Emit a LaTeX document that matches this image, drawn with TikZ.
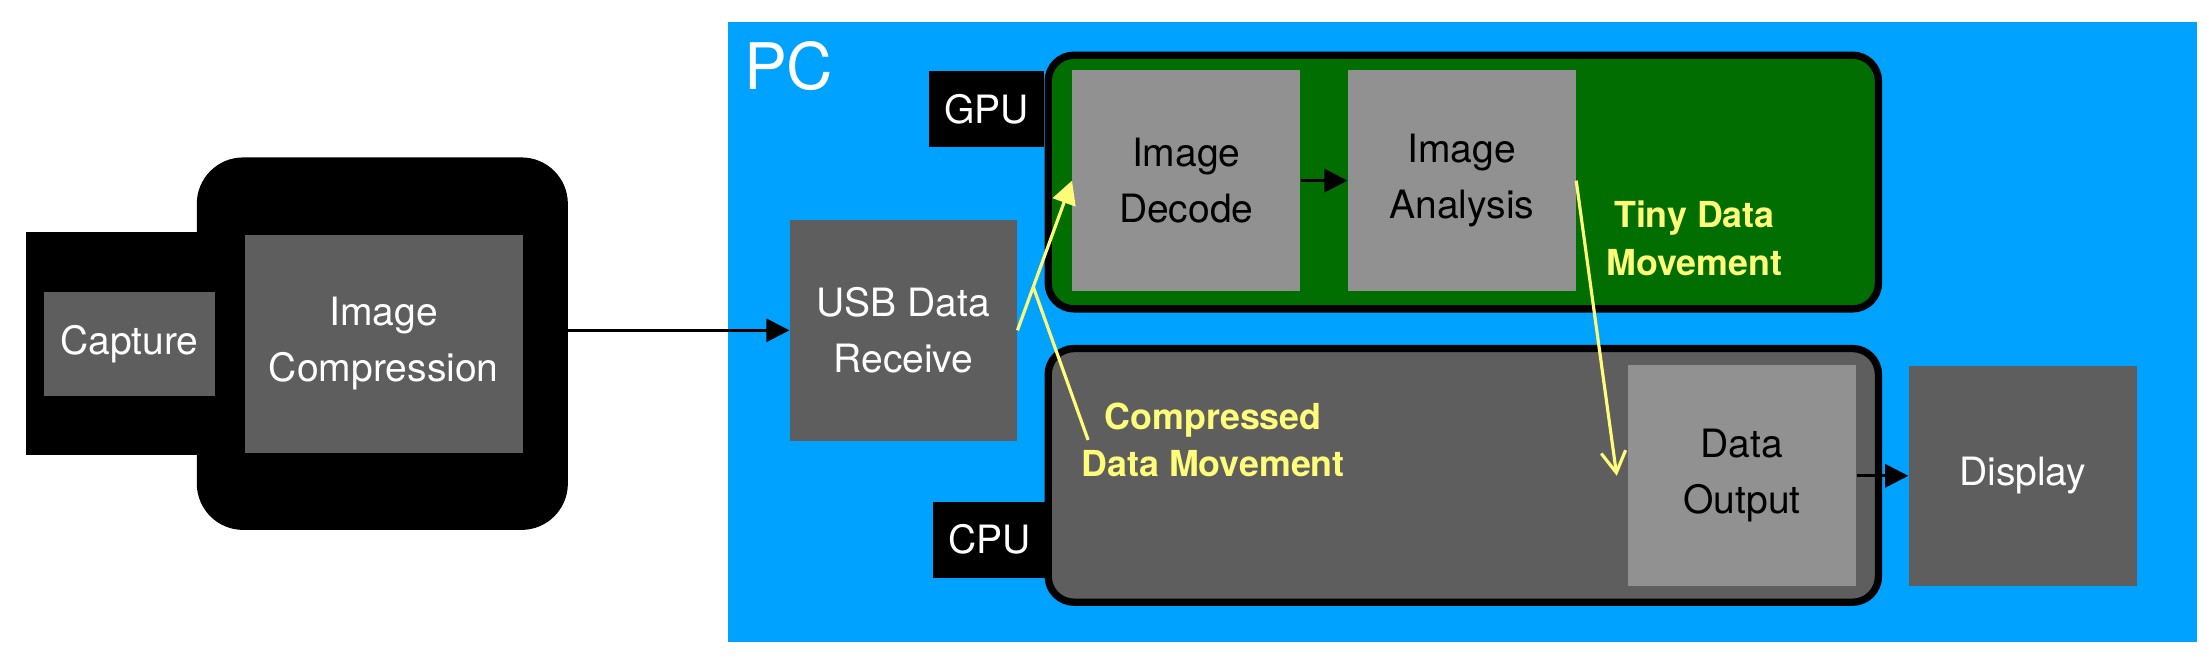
\documentclass[tikz,border=0pt]{standalone}
\usepackage{fontspec}
\setmainfont{TeX Gyre Heros}
\usetikzlibrary{arrows.meta}
\definecolor{azul}{RGB}{0,162,255}
\definecolor{verde}{RGB}{0,110,0}
\definecolor{grisosc}{RGB}{94,94,94}
\definecolor{grisclaro}{RGB}{145,145,145}
\definecolor{amarillo}{RGB}{255,252,121}
\tikzset{
  caja/.style={inner sep=0pt, align=center, font=\fontsize{15.8}{22.5}\selectfont},
  oscura/.style={caja, fill=grisosc, text=white},
  clara/.style={caja, fill=grisclaro, text=black},
  etiqueta/.style={caja, fill=black, text=white, minimum height=10.8mm},
  contenedor/.style={draw=black, line width=1.04mm, rounded corners=3.7mm, minimum width=118.14mm, minimum height=36.1mm},
  flecha/.style={line width=0.4mm, -{Triangle[length=3.3mm,width=3.3mm]}},
  flechaam/.style={line width=0.45mm, draw=amarillo},
  nota/.style={text=amarillo, align=center, font=\bfseries\fontsize{14.5}{19.3}\selectfont}
}
\begin{document}
\begin{tikzpicture}[x=0.2mm,y=-0.2mm]
    \useasboundingbox (0,0) rectangle (1568,466.7);
    % Fondo del PC
    \fill[azul] (518,16) rectangle (1563,456.5);
    \node[anchor=base west, inner sep=0pt, text=white, font=\fontsize{26}{30}\selectfont] (pc) at (529,64) {PC};
    % Camara
    \fill[black] (18.5,165) rectangle (200,324);
    \node[fill=black, rounded corners=6.6mm, minimum width=52.8mm, minimum height=53mm] (camara) at (272,244.5) {};
    \node[oscura, minimum width=24.4mm, minimum height=14.8mm] (captura) at (92,245) {Capture};
    \node[oscura, minimum width=39.6mm, minimum height=31mm] (compresion) at (273,244.5) {Image\\Compression};
    % GPU y CPU
    \node[contenedor, fill=verde] (gpu) at (1041.05,129.5) {};
    \node[contenedor, fill=grisosc] (cpu) at (1041.05,338.2) {};
    \node[etiqueta, minimum width=16.3mm] (gpulbl) at (701.75,77.5) {GPU};
    \node[etiqueta, minimum width=16mm] (cpulbl) at (704,384) {CPU};
    % Bloques
    \node[oscura, minimum width=32.3mm, minimum height=31.4mm] (usb) at (642.75,235) {USB Data\\Receive};
    \node[clara, minimum width=32.4mm, minimum height=31.4mm] (decode) at (844,128.5) {Image\\Decode};
    \node[clara, minimum width=32.4mm, minimum height=31.4mm] (analysis) at (1040,128.5) {Image\\Analysis};
    \node[clara, minimum width=32.5mm, minimum height=31.5mm] (output) at (1239.3,338.5) {Data\\Output};
    \node[oscura, minimum width=32.4mm, minimum height=31.3mm] (display) at (1439,338.5) {Display};
    % Notas
    \node[nota] (notatiny) at (1205.5,169.4) {Tiny Data\\Movement};
    \node[nota] (notacomp) at (863,313) {Compressed\\Data Movement};
    % Flechas negras
    \draw[flecha] (camara.east |- usb.west) -- (usb.west);
    \draw[flecha] (decode) -- (analysis);
    \draw[flecha] (output) -- (display);
    % Flechas amarillas
    \draw[flechaam, -{Triangle[length=3.3mm,width=3.4mm]}] (usb.east) -- coordinate[pos=0.29] (cruce) (decode.west);
    \draw[flechaam] (cruce) -- ([xshift=2.2mm]notacomp.west);
    \draw[flechaam, -{Straight Barb[length=3mm,width=3.5mm]}] (analysis.east) -- ([xshift=-1.5mm]output.west);
\end{tikzpicture}
\end{document}
